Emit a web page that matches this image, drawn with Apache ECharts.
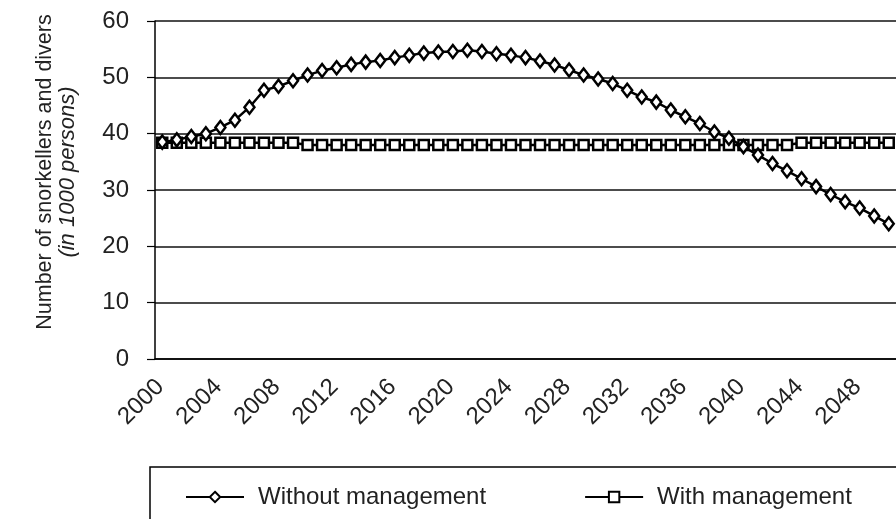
<!DOCTYPE html>
<html>
<head>
<meta charset="utf-8">
<script src="https://cdn.jsdelivr.net/npm/echarts@6/dist/echarts.min.js"></script>
<style>
  html, body { margin: 0; padding: 0; background: #fff; }
  #chart { width: 896px; height: 519px; }
</style>
</head>
<body>
<div id="chart"></div>
<script>
// categories, one per year
const years = [
  "2000", "2001", "2002", "2003", "2004", "2005", "2006", "2007", "2008", "2009",
  "2010", "2011", "2012", "2013", "2014", "2015", "2016", "2017", "2018", "2019",
  "2020", "2021", "2022", "2023", "2024", "2025", "2026", "2027", "2028", "2029",
  "2030", "2031", "2032", "2033", "2034", "2035", "2036", "2037", "2038", "2039",
  "2040", "2041", "2042", "2043", "2044", "2045", "2046", "2047", "2048", "2049",
  "2050"
];

// thousands of persons
const withoutManagement = [
  38.5, 38.9, 39.5, 40.0, 41.1, 42.4, 44.7, 47.7, 48.4, 49.4,
  50.4, 51.2, 51.7, 52.3, 52.7, 53.0, 53.5, 53.9, 54.3, 54.5,
  54.6, 54.8, 54.6, 54.2, 53.9, 53.5, 52.9, 52.2, 51.3, 50.4,
  49.7, 48.9, 47.7, 46.5, 45.6, 44.2, 43.0, 41.8, 40.3, 39.2,
  37.7, 36.2, 34.7, 33.4, 32.0, 30.6, 29.2, 27.9, 26.8, 25.4,
  24.0
];

const withManagement = [
  38.4, 38.4, 38.4, 38.4, 38.4, 38.4, 38.4, 38.4, 38.4, 38.4,
  38.0, 38.0, 38.0, 38.0, 38.0, 38.0, 38.0, 38.0, 38.0, 38.0,
  38.0, 38.0, 38.0, 38.0, 38.0, 38.0, 38.0, 38.0, 38.0, 38.0,
  38.0, 38.0, 38.0, 38.0, 38.0, 38.0, 38.0, 38.0, 38.0, 38.0,
  38.0, 38.0, 38.0, 38.0, 38.4, 38.4, 38.4, 38.4, 38.4, 38.4,
  38.4
];

const yTicks = [0, 10, 20, 30, 40, 50, 60];

const font = "'Liberation Sans', Arial, sans-serif";
const ink = "#222";

const chart = echarts.init(document.getElementById("chart"), null, { renderer: "canvas" });

const option = {
  animation: false,
  backgroundColor: "#fff",
  grid: {
    left: 155,
    top: 21,
    bottom: 160,
    right: -12
  },
  xAxis: {
    type: "category",
    data: years,
    boundaryGap: true,
    axisLine: { lineStyle: { color: "#000", width: 1.5 } },
    axisTick: {
      interval: 0,
      length: 7,
      lineStyle: { color: "#000", width: 1.2 }
    },
    axisLabel: {
      interval: 3,
      rotate: 45,
      margin: 22,
      padding: [0, 3, 0, 0],
      fontFamily: font,
      fontSize: 24,
      color: ink
    },
    splitLine: { show: false }
  },
  yAxis: {
    type: "value",
    min: yTicks[0],
    max: yTicks[yTicks.length - 1],
    interval: 10,
    axisLine: { show: true, lineStyle: { color: "#000", width: 1.5 } },
    axisTick: { show: true, length: 8, lineStyle: { color: "#000", width: 1.2 } },
    axisLabel: {
      margin: 26,
      fontFamily: font,
      fontSize: 24,
      color: ink
    },
    splitLine: { lineStyle: { color: "#111", width: 1.6 } }
  },
  legend: {
    left: 180,
    top: 480,
    itemWidth: 58,
    itemHeight: 13,
    itemGap: 98,
    textStyle: { fontFamily: font, fontSize: 24, color: ink, padding: [0, 0, 0, 9] },
    data: ["Without management", "With management"]
  },
  graphic: [
    {
      type: "rect",
      shape: { x: 150, y: 467, width: 800, height: 100 },
      style: { fill: "none", stroke: "#000", lineWidth: 1.5 },
      silent: true
    },
    {
      type: "text",
      x: 45,
      y: 172,
      rotation: Math.PI / 2,
      style: {
        text: "Number of snorkellers and divers",
        fontFamily: font,
        fontSize: 21.5,
        fill: ink,
        align: "center",
        verticalAlign: "middle"
      }
    },
    {
      type: "text",
      x: 68,
      y: 172,
      rotation: Math.PI / 2,
      style: {
        text: "(in 1000 persons)",
        fontFamily: font,
        fontSize: 22,
        fontStyle: "italic",
        fill: ink,
        align: "center",
        verticalAlign: "middle"
      }
    }
  ],
  series: [
    {
      name: "Without management",
      type: "line",
      data: withoutManagement,
      symbol: "diamond",
      symbolSize: [10, 13],
      showAllSymbol: true,
      lineStyle: { color: "#000", width: 2.5 },
      itemStyle: { color: "#fff", borderColor: "#000", borderWidth: 2.5 },
      z: 3
    },
    {
      name: "With management",
      type: "line",
      data: withManagement,
      symbol: "rect",
      symbolSize: 10,
      showAllSymbol: true,
      lineStyle: { color: "#000", width: 2.5 },
      itemStyle: { color: "#fff", borderColor: "#000", borderWidth: 2.5 },
      z: 2
    }
  ]
};

chart.setOption(option);
</script>
</body>
</html>
